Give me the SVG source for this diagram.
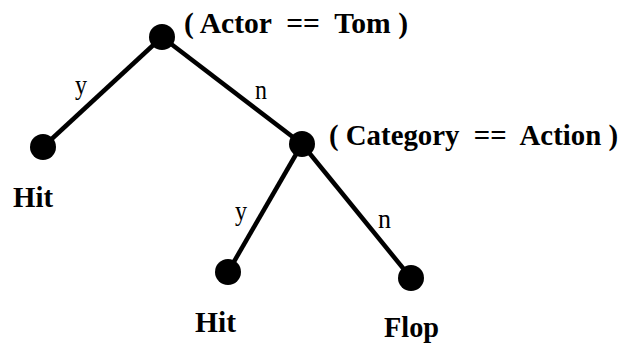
<svg xmlns="http://www.w3.org/2000/svg" width="626" height="348" viewBox="0 0 626 348">
<style>
.edge{stroke:#000;stroke-width:4.5;fill:none}
.dot{fill:#000}
.b{font-family:"Liberation Serif",serif;font-weight:bold;font-size:29px;fill:#000;white-space:pre}
.lab{font-family:"Liberation Serif",serif;font-size:27px;fill:#000}
</style>
<rect width="626" height="348" fill="#fff"/>
<g id="connectors">
<line class="edge" x1="162" y1="37" x2="43" y2="147"/>
<line class="edge" x1="162" y1="37" x2="302" y2="144"/>
<line class="edge" x1="302" y1="144" x2="228" y2="272"/>
<line class="edge" x1="302" y1="144" x2="411" y2="278"/>
<text class="lab" x="75" y="94" textLength="12" lengthAdjust="spacingAndGlyphs">y</text>
<text class="lab" x="255" y="99" textLength="12" lengthAdjust="spacingAndGlyphs">n</text>
<text class="lab" x="235" y="220" textLength="12" lengthAdjust="spacingAndGlyphs">y</text>
<text class="lab" x="378" y="228" textLength="13" lengthAdjust="spacingAndGlyphs">n</text>
</g>
<g id="root"><circle class="dot" cx="162" cy="37" r="13"/><text class="b" xml:space="preserve" x="184" y="33" textLength="224" lengthAdjust="spacingAndGlyphs">( Actor  ==  Tom )</text></g>
<g id="leaf1"><circle class="dot" cx="43" cy="147" r="13"/><text class="b" x="13" y="207" textLength="40" lengthAdjust="spacingAndGlyphs">Hit</text></g>
<g id="node2"><circle class="dot" cx="302" cy="144" r="13"/><text class="b" xml:space="preserve" x="329" y="145" textLength="289" lengthAdjust="spacingAndGlyphs">( Category  ==  Action )</text></g>
<g id="leaf2"><circle class="dot" cx="228" cy="272" r="13"/><text class="b" x="195" y="332" textLength="41" lengthAdjust="spacingAndGlyphs">Hit</text></g>
<g id="leaf3"><circle class="dot" cx="411" cy="278" r="13"/><text class="b" x="384" y="337" textLength="55" lengthAdjust="spacingAndGlyphs">Flop</text></g>
</svg>
